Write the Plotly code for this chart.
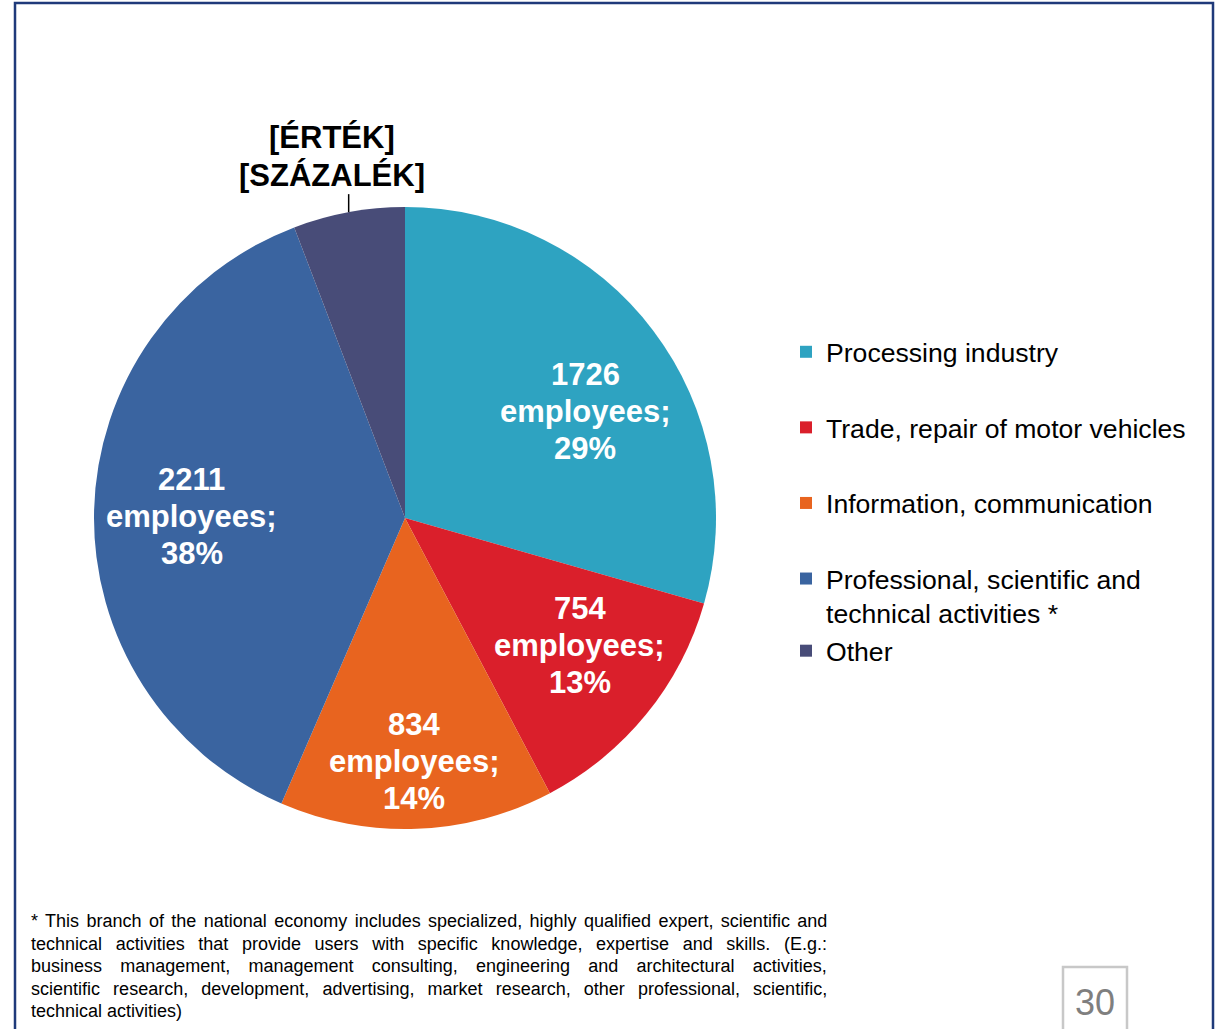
import math
import plotly.graph_objects as go

# ---- data ----
categories = ["Processing industry", "Trade, repair of motor vehicles",
              "Information, communication",
              "Professional, scientific and<br>technical activities *", "Other"]
values = [1726, 754, 834, 2211, 340]
colors = ["#2EA3C1", "#DA1F2B", "#E8641F", "#3A64A0", "#484C78"]
unit_text = "employees;"
other_label = ["[ÉRTÉK]", "[SZÁZALÉK]"]
footnote_lines = [
    "* This branch of the national economy includes specialized, highly qualified expert, scientific and",
    "technical activities that provide users with specific knowledge, expertise and skills. (E.g.:",
    "business management, management consulting, engineering and architectural activities,",
    "scientific research, development, advertising, market research, other professional, scientific,",
    "technical activities)",
]
page_number = "30"

# ---- style ----
W, H = 1216, 1029
FONT = "Arial, Liberation Sans, sans-serif"
label_frac = [0.672, 0.695, 0.785, 0.685]     # radial position of inside labels
label_nudge = [6.5, -3.0, 0.0, -0.8]          # angular nudge (degrees)
foot_spacing = [2.4, 8.6, 13.2, 8.1, 0]       # word spacing for justified lines


def px(x):
    return x / W


def py(y):
    return 1 - y / H


cx, cy, r = 405, 518, 311

fig = go.Figure()
fig.add_trace(go.Pie(
    values=values, labels=categories, sort=False, direction="clockwise", rotation=0,
    marker=dict(colors=colors, line=dict(width=0)),
    textinfo="none", showlegend=False, hoverinfo="label+value+percent",
    domain=dict(x=[px(cx - r), px(cx + r)], y=[py(cy + r), py(cy - r)]),
))

# legend from dummy traces so item spacing can be matched
groups = ["g0", "g1", "g2", "g3", "g3"]
for cat, col, g in zip(categories, colors, groups):
    fig.add_trace(go.Scatter(
        x=[None], y=[None], mode="markers", name=cat, legendgroup=g,
        marker=dict(symbol="square", size=14, color=col), showlegend=True,
    ))

total = sum(values)
cum = 0
mids = []
for v in values:
    mids.append(2 * math.pi * (cum + v / 2) / total)
    cum += v

# inside labels (value / unit / percent), positioned along each slice's mid angle
for i in range(4):
    th = mids[i] + math.radians(label_nudge[i])
    lx = cx + label_frac[i] * r * math.sin(th)
    ly = cy - label_frac[i] * r * math.cos(th)
    pct = round(100 * values[i] / total)
    for j, t in enumerate([str(values[i]), unit_text, f"{pct}%"]):
        fig.add_annotation(x=px(lx), y=py(ly + (j - 1) * 37), xref="paper", yref="paper",
                           text=t, showarrow=False, xanchor="center", yanchor="middle",
                           font=dict(family=FONT, size=31, color="white", weight="bold"))

# label for the "Other" slice with leader line at the slice midpoint
th = mids[-1]
ex = cx + r * math.sin(th)
ey = cy - r * math.cos(th)
line_len = 18
fig.add_shape(type="line", xref="paper", yref="paper",
              x0=px(ex), x1=px(ex), y0=py(ey), y1=py(ey - line_len),
              line=dict(color="black", width=1.5))
for j, t in enumerate(other_label):
    fig.add_annotation(x=px(ex - 17), y=py(ey - line_len - 19 - 38 * (1 - j)),
                       xref="paper", yref="paper",
                       text=t, showarrow=False, xanchor="center", yanchor="middle",
                       font=dict(family=FONT, size=31, color="black", weight="bold"))

# footnote
for i, ln in enumerate(footnote_lines):
    txt = f'<span style="word-spacing:{foot_spacing[i]}px">{ln}</span>' if foot_spacing[i] else ln
    fig.add_annotation(x=px(29), y=py(921 + i * 22.6), xref="paper", yref="paper",
                       text=txt, showarrow=False, xanchor="left", yanchor="middle",
                       font=dict(family=FONT, size=18, color="black"))

# page frame and page number box
fig.add_shape(type="rect", xref="paper", yref="paper",
              x0=px(15), x1=px(1213), y0=-0.05, y1=py(3),
              line=dict(color="#1F3A7A", width=2.5))
fig.add_shape(type="rect", xref="paper", yref="paper",
              x0=px(1063), x1=px(1127), y0=-0.05, y1=py(967),
              line=dict(color="#C8C8C8", width=2.5))
fig.add_annotation(x=px(1095), y=py(1002), xref="paper", yref="paper",
                   text=page_number, showarrow=False, xanchor="center", yanchor="middle",
                   font=dict(family=FONT, size=36, color="#7F7F7F"))

fig.update_layout(
    width=W, height=H, margin=dict(l=0, r=0, t=0, b=0),
    paper_bgcolor="white", plot_bgcolor="white",
    xaxis=dict(visible=False), yaxis=dict(visible=False),
    legend=dict(x=px(786), y=py(328), xanchor="left", yanchor="top",
                font=dict(family=FONT, size=26.6, color="black"),
                tracegroupgap=38, valign="top", itemsizing="constant",
                bgcolor="rgba(0,0,0,0)"),
    showlegend=True,
)

fig.write_html(
    "out.html",
    config={"displayModeBar": False},
    post_script="document.body.style.margin='0';document.body.style.overflow='hidden';"
                "document.documentElement.style.overflow='hidden';",
)
